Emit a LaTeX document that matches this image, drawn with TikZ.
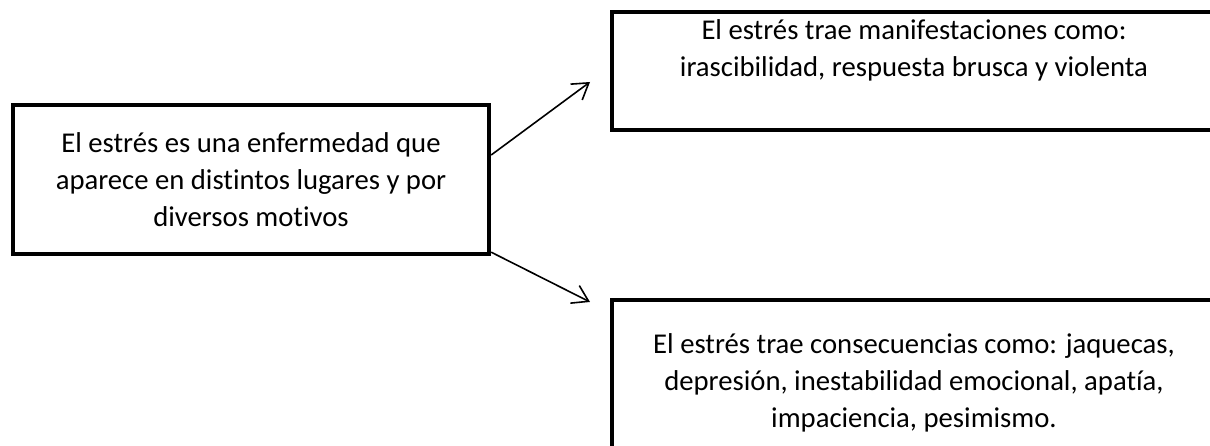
\documentclass[tikz,border=0pt]{standalone}
\usepackage{fontspec}
\setmainfont{Carlito}[Ligatures=NoCommon]
\usetikzlibrary{arrows.meta}

\tikzset{
  box/.style={draw, line width=0.11cm, inner sep=0pt},
  txt/.style={align=center, font=\fontsize{20.4pt}{26.3pt}\selectfont},
  link/.style={line width=0.04cm, -{Straight Barb[length=11pt, width=14pt]}}
}

\begin{document}
\begin{tikzpicture}
        \useasboundingbox (0, 0) rectangle (30.25, 11.15);

        \node[box, txt, minimum width=11.9cm, minimum height=3.725cm] at (6.275, 6.6625) (estres)
            {El estrés es una enfermedad que\\ aparece en distintos lugares y por\\ diversos motivos};
        \node[box, anchor=north west, minimum width=15.3cm, minimum height=2.95cm] at (15.25, 10.9) (manif) {};
        \node[txt] at (22.85, 9.89) (maniftxt)
            {El estrés trae manifestaciones como:\\ irascibilidad, respuesta brusca y violenta};
        \node[box, anchor=north west, minimum width=15.3cm, minimum height=4cm] at (15.25, 3.7) (consec) {};
        \node[txt] at (22.85, 1.567) (consectxt)
            {El estrés trae consecuencias como: jaquecas,\\ depresión, inestabilidad emocional, apatía,\\ impaciencia, pesimismo.};

        \coordinate (up) at (14.75, 9.1);
        \coordinate (down) at (14.75, 3.6);

        \draw[link] ([yshift=0.6125cm]estres.east) -- (up);
        \draw[link] ([yshift=0.1cm]estres.south east) -- (down);
    \end{tikzpicture}
\end{document}
